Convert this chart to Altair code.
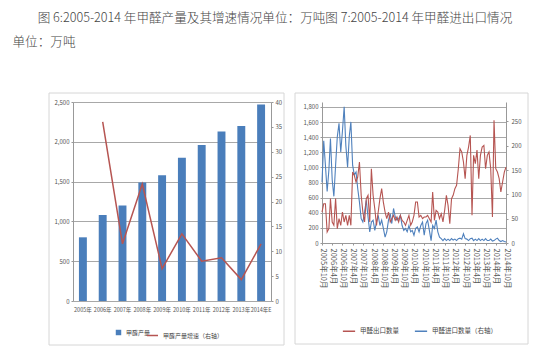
import altair as alt
import pandas as pd

FONT = "Noto Sans CJK SC"

# ---------- Figure 6: output and growth ----------
years = ["2005年", "2006年", "2007年", "2008年", "2009年", "2010年",
         "2011年", "2012年", "2013年", "2014年E"]
output = [800, 1080, 1200, 1490, 1580, 1800, 1960, 2130, 2200, 2470]
growth_years = years[1:]
growth = [36.0, 11.5, 23.5, 6.5, 13.5, 8.0, 8.7, 4.3, 11.5]

# ---------- Figure 7: exports / imports, monthly from 2005-10 ----------
months = [f"{2005 + (9 + i) // 12}/{(9 + i) % 12 + 1:02d}/01" for i in range(109)]
exports = [410, 520, 520, 145, 190, 587, 278, 234, 587, 190,
           322, 234, 410, 278, 366, 234, 366, 234, 939, 895,
           807, 873, 1072, 631, 410, 278, 587, 631, 278, 983,
           631, 454, 234, 410, 587, 719, 542, 410, 322, 410,
           278, 322, 366, 300, 344, 278, 366, 300, 278, 234,
           300, 366, 234, 278, 366, 542, 542, 344, 366, 322,
           344, 344, 366, 322, 278, 675, 300, 432, 410, 322,
           388, 278, 432, 631, 498, 256, 587, 631, 719, 763,
           983, 1248, 1204, 1072, 851, 1160, 1270, 1424, 366, 1160,
           1050, 1230, 851, 1160, 1270, 1292, 983, 1160, 1204, 983,
           344, 1623, 983, 939, 851, 675, 807, 939, 1005]
imports = [125, 210, 160, 106, 150, 215, 130, 96, 160, 218,
           246, 187, 230, 280, 200, 156, 220, 249, 160, 140,
           146, 112, 84, 50, 43, 64, 88, 54, 23, 43,
           47, 26, 43, 57, 36, 47, 30, 12, 23, 47,
           60, 40, 71, 54, 47, 50, 57, 36, 26, 30,
           23, 36, 23, 26, 16, 30, 33, 23, 36, 43,
           16, 40, 47, 26, 5, 36, 30, 47, 23, 12,
           9, 5, 9, 5, 8, 5, 9, 6, 8, 5,
           9, 10, 8, 19, 9, 8, 5, 9, 10, 5,
           8, 5, 9, 5, 8, 5, 9, 5, 5, 8,
           4, 5, 8, 10, 5, 3, 5, 3, 2]
tick_months = [(2005 + (9 + 6 * k) // 12, (9 + 6 * k) % 12 + 1) for k in range(19)]

# zero-width space keeps the two ideographic spaces of the indent from being trimmed
title_lines = ["\u200b\u3000\u3000图 6:2005-2014 年甲醛产量及其增速情况单位：万吨图 7:2005-2014 年甲醛进出口情况",
               "单位：万吨"]

BLUE = "#4A7EBB"
RED = "#B65552"
BLUE_LINE = "#4F81BD"
GRID = "#a8a8a8"
FRAME = "#d6d6d6"

small_axis = dict(labelFontSize=6, labelColor="#555", labelFont=FONT,
                  domainColor="#999", tickColor="#999", tickSize=2, title=None)

# ---------- left chart ----------
df_bar = pd.DataFrame({"year": years, "output": output, "s1": "甲醛产量"})
df_gr = pd.DataFrame({"year": growth_years, "growth": growth, "s2": "甲醛产量增速（右轴）"})
one = pd.DataFrame({"a": [0]})

LW, LH = 198, 199
frame_l = alt.Chart(one).mark_rect(filled=False, stroke=FRAME, strokeWidth=1).encode(
    x=alt.value(-24), x2=alt.value(211), y=alt.value(-9), y2=alt.value(243))

xl = alt.X("year:N", sort=years,
           scale=alt.Scale(paddingInner=0.6, paddingOuter=0.3),
           axis=alt.Axis(labelAngle=0, labelPadding=6, ticks=False, domain=False,
                         labelFontSize=5.5, labelColor="#555", labelFont=FONT, title=None))

bars = alt.Chart(df_bar).mark_bar().encode(
    x=xl,
    y=alt.Y("output:Q", scale=alt.Scale(domain=[0, 2500], nice=False),
            axis=alt.Axis(values=[0, 500, 1000, 1500, 2000, 2500], format=",.0f",
                          grid=True, gridColor=GRID, labelPadding=2, **small_axis)),
    fill=alt.Fill("s1:N", scale=alt.Scale(domain=["甲醛产量"], range=[BLUE]),
                  legend=alt.Legend(title=None, orient="none", legendX=42, legendY=227,
                                    symbolType="square", symbolSize=30,
                                    labelFontSize=6, labelFont=FONT, labelColor="#444")),
)
gline = alt.Chart(df_gr).mark_line(strokeWidth=1.5).encode(
    x=alt.X("year:N", sort=years),
    y=alt.Y("growth:Q", scale=alt.Scale(domain=[0, 40], nice=False),
            axis=alt.Axis(orient="right", values=list(range(0, 45, 5)), format=".0f",
                          grid=False, labelPadding=2, **small_axis)),
    stroke=alt.Stroke("s2:N", scale=alt.Scale(domain=["甲醛产量增速（右轴）"], range=[RED]),
                      legend=alt.Legend(title=None, orient="none", legendX=73, legendY=227,
                                        symbolType="stroke", symbolSize=120,
                                        symbolStrokeWidth=1.5,
                                        labelFontSize=6, labelFont=FONT, labelColor="#444")),
)
left = alt.layer(frame_l, bars, gline).resolve_scale(y="independent").properties(
    width=LW, height=LH)

# ---------- right chart ----------
RW, RH = 184, 141
df_exp = pd.DataFrame({"month": months, "v": exports, "s3": "甲醛出口数量"})
df_imp = pd.DataFrame({"month": months, "v": imports, "s3": "甲醛进口数量（右轴）"})
ser_dom = ["甲醛出口数量", "甲醛进口数量（右轴）"]

frame_r = alt.Chart(one).mark_rect(filled=False, stroke=FRAME, strokeWidth=1).encode(
    x=alt.value(-27), x2=alt.value(206), y=alt.value(-9), y2=alt.value(242))

xr = alt.X("month:T",
           scale=alt.Scale(domain=[alt.DateTime(year=2005, month=10, date=1),
                                   alt.DateTime(year=2014, month=10, date=1)]),
           axis=alt.Axis(values=[alt.DateTime(year=y, month=m, date=1) for y, m in tick_months],
                         format="%Y年%-m月", labelAngle=90, labelPadding=3,
                         grid=False, labelFontSize=7.5, labelColor="#555", labelFont=FONT,
                         domainColor="#999", tickColor="#999", tickSize=2, title=None))
stroke_r = alt.Stroke("s3:N", scale=alt.Scale(domain=ser_dom, range=[RED, BLUE_LINE]),
                      legend=alt.Legend(title=None, orient="none", legendX=20, legendY=222,
                                        direction="horizontal", symbolType="stroke",
                                        symbolSize=150, symbolStrokeWidth=1.5,
                                        columnPadding=12,
                                        labelFontSize=6.5, labelFont=FONT, labelColor="#444"))

exp_line = alt.Chart(df_exp).mark_line(strokeWidth=1.1).encode(
    x=xr,
    y=alt.Y("v:Q", scale=alt.Scale(domain=[0, 1866], nice=False),
            axis=alt.Axis(values=list(range(0, 2000, 200)), format=",.0f", grid=True,
                          gridColor=GRID, labelPadding=2, **small_axis)),
    stroke=stroke_r,
)
imp_line = alt.Chart(df_imp).mark_line(strokeWidth=1.1).encode(
    x=xr,
    y=alt.Y("v:Q", scale=alt.Scale(domain=[0, 290], nice=False),
            axis=alt.Axis(orient="right", values=[0, 50, 100, 150, 200, 250], format=".0f",
                          grid=False, labelPadding=3, **small_axis)),
    stroke=stroke_r,
)
right = alt.layer(frame_r, imp_line, exp_line).resolve_scale(y="independent").properties(
    width=RW, height=RH)

chart = alt.hconcat(left, right, spacing=9).resolve_scale(
    fill="independent", stroke="independent"
).resolve_legend(fill="independent", stroke="independent").properties(
    title=alt.TitleParams(text=title_lines, anchor="start", dx=-36, offset=44,
                          fontSize=12.6, font=FONT, fontWeight=300, color="#444",
                          lineHeight=24),
    padding={"left": 4, "top": 3, "right": 0, "bottom": 0},
    background="white",
).configure_view(strokeWidth=0)

chart.save("out.html", embed_options={"renderer": "svg", "actions": False})
